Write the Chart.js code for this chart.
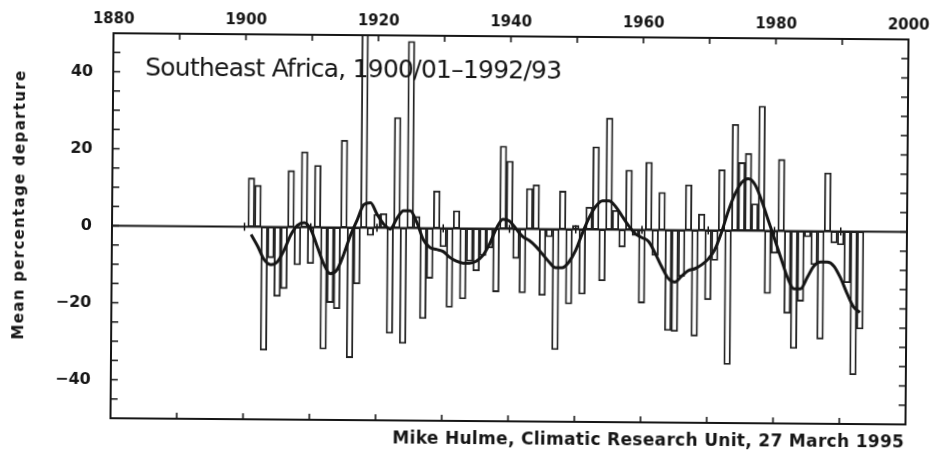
<!DOCTYPE html>
<html>
<head>
<meta charset="utf-8">
<script src="https://cdn.jsdelivr.net/npm/chart.js@4.4.0/dist/chart.umd.min.js"></script>
<style>
  html, body { margin: 0; background: #fff; }
  #wrap { width: 934px; height: 455px; transform: rotate(0.45deg); }
  canvas { display: block; }
</style>
</head>
<body>
<div id="wrap"><canvas id="rainChart" width="934" height="455"></canvas></div>
<script>
const chartTitle = "Southeast Africa, 1900/01\u20131992/93";
const creditLine = "Mike Hulme, Climatic Research Unit, 27 March 1995";
const yAxisTitle = "Mean percentage departure";

// season 1900/01 is plotted at 1901, then one bar per season
const firstSeasonEnd = 1901;

// rainfall departures (%), seasons 1900/01 .. 1992/93
const departures = [
  12.7, 10.8, -32, -8, -18, -16, 14.7, -9.8, 19.6, -9.4,
  16.1, -31.6, -19.5, -21.1, 22.7, -33.8, -14.6, 55, -2, 3.5,
  3.7, -27.4, 28.7, -30, 48.5, 3, -23.5, -13, 9.7, -4.8,
  -20.5, 4.6, -18.3, -8.5, -11, -7, -5, -16.4, 21.5, 17.6,
  -7.7, -16.6, 10.5, 11.5, -17.2, -2, -31.3, 9.9, -19.4, 1,
  -16.8, 5.8, 21.5, -13.3, 29, 5, -4.5, 15.5, -1.5, -19,
  17.6, -6.6, 9.8, -26.1, -26.3, -12, 11.8, -27.5, 4.2, -18,
  -7.8, 15.8, -34.8, 27.6, 17.7, 20.1, 7, 32.4, -16.3, -5.8,
  18.6, -21.4, -30.5, -18.2, -1.5, -8.7, -28, 15.2, -3, -3.5,
  -13.3, -37.2, -25.3
];

// smoothed curve at each season
const smoothed = [
  -2, -5, -8.5, -9.8, -9, -6, -2, 0.5, 1.2, -0.5,
  -5, -9.5, -12, -11, -7, -2, 2, 6, 6.5, 3.5,
  1, -0.3, 2.5, 4.5, 4.5, 1.5, -3, -5, -5.5, -6,
  -7.5, -8.5, -9, -9, -8.5, -7, -4, 0, 2.5, 2,
  0, -2, -3, -4.5, -6.5, -8.5, -10, -10, -8.5, -5.5,
  -1, 3, 6, 7.5, 7.5, 6, 3.5, 1, -1, -2,
  -3, -6, -9.5, -12.5, -13.5, -12, -10.5, -10, -9, -7.5,
  -5, -0.5, 5, 9.5, 12.5, 13.5, 12, 8, 3, -2,
  -7, -12, -15, -15, -12, -9, -8, -8, -9, -12,
  -16, -19.5, -21
];

const xTickValues = [1880, 1900, 1920, 1940, 1960, 1980, 2000];
const xTickLabels = ["1880", "1900", "1920", "1940", "1960", "1980", "2000"];
const yTickValues = [-40, -20, 0, 20, 40];
const yTickLabels = ["\u221240", "\u221220", "0", "20", "40"];

const ink = "#161616";

// fit text to a width by spreading the letters
const spreadText = (ctx, text, x, y, width) => {
  ctx.letterSpacing = "0px";
  const w = ctx.measureText(text).width;
  const gap = (width - w) / text.length;
  ctx.letterSpacing = gap.toFixed(2) + "px";
  ctx.fillText(text, x, y);
  ctx.letterSpacing = "0px";
};

const framePlugin = {
  id: "frame",
  beforeDatasetsDraw(chart) {
    const { ctx, chartArea: a, scales } = chart;
    const y0 = scales.y.getPixelForValue(0);
    ctx.save();
    ctx.strokeStyle = ink;
    ctx.lineWidth = 2;
    ctx.beginPath();
    ctx.moveTo(a.left, y0);
    ctx.lineTo(a.right, y0);
    ctx.stroke();
    ctx.lineWidth = 1.5;
    ctx.beginPath();
    for (let yr = 1900; yr <= 1990; yr += 10) {
      const px = scales.x.getPixelForValue(yr);
      ctx.moveTo(px, y0 - 4);
      ctx.lineTo(px, y0 + 4);
    }
    ctx.stroke();
    ctx.restore();
  },
  afterDatasetsDraw(chart) {
    const { ctx, chartArea: a, scales } = chart;
    ctx.save();
    ctx.strokeStyle = ink;
    ctx.fillStyle = ink;
    ctx.lineWidth = 2;
    ctx.strokeRect(a.left, a.top, a.right - a.left, a.bottom - a.top);

    ctx.lineWidth = 1.6;
    ctx.beginPath();
    for (let v = -45; v <= 45; v += 5) {
      const py = scales.y.getPixelForValue(v);
      ctx.moveTo(a.left, py);
      ctx.lineTo(a.left + 7, py);
      ctx.moveTo(a.right, py);
      ctx.lineTo(a.right - 7, py);
    }
    for (let yr = 1890; yr <= 1990; yr += 10) {
      const px = scales.x.getPixelForValue(yr);
      ctx.moveTo(px, a.top);
      ctx.lineTo(px, a.top + 6);
      ctx.moveTo(px, a.bottom);
      ctx.lineTo(px, a.bottom - 6);
    }
    ctx.stroke();

    ctx.textBaseline = "middle";
    ctx.textAlign = "left";
    ctx.font = "25px 'DejaVu Sans'";
    spreadText(ctx, chartTitle, 144, 71, 416);

    ctx.font = "bold 17px 'DejaVu Sans'";
    spreadText(ctx, creditLine, 394, 440, 512);

    ctx.translate(20, 208);
    ctx.rotate(-Math.PI / 2);
    ctx.font = "bold 15px 'DejaVu Sans'";
    spreadText(ctx, yAxisTitle, -135, 0, 270);
    ctx.restore();
  },
};

const ctx = document.getElementById("rainChart").getContext("2d");

new Chart(ctx, {
  type: "bar",
  data: {
    datasets: [
      {
        type: "line",
        order: 0,
        data: smoothed.map((v, i) => ({ x: firstSeasonEnd + i, y: v })),
        borderColor: ink,
        borderWidth: 3,
        pointRadius: 0,
        cubicInterpolationMode: "monotone",
        fill: false,
      },
      {
        type: "bar",
        order: 1,
        data: departures.map((v, i) => ({ x: firstSeasonEnd + i, y: v })),
        backgroundColor: "rgba(255, 255, 255, 0)",
        borderColor: "#222",
        borderWidth: 1.2,
        borderSkipped: false,
        barPercentage: 1,
        categoryPercentage: 1,
      },
    ],
  },
  options: {
    responsive: false,
    animation: false,
    layout: {
      padding: { left: 0, right: 27, top: 0, bottom: 34 },
    },
    plugins: {
      legend: { display: false },
      tooltip: { enabled: false },
    },
    scales: {
      x: {
        type: "linear",
        position: "top",
        min: 1880,
        max: 2000,
        offset: false,
        grid: { display: false, offset: false },
        border: { display: false },
        afterFit: (scale) => {
          scale.height = 36;
        },
        afterBuildTicks: (scale) => {
          scale.ticks = xTickValues.map((v) => ({ value: v }));
        },
        ticks: {
          autoSkip: false,
          maxRotation: 0,
          padding: -2,
          color: ink,
          font: { family: "DejaVu Sans", size: 15, weight: "bold", lineHeight: 1 },
          callback: (value) => xTickLabels[xTickValues.indexOf(value)],
        },
      },
      y: {
        min: -50,
        max: 50,
        grid: { display: false },
        border: { display: false },
        afterFit: (scale) => {
          scale.width = 112;
        },
        afterBuildTicks: (scale) => {
          scale.ticks = yTickValues.map((v) => ({ value: v }));
        },
        ticks: {
          padding: 12,
          color: ink,
          font: { family: "DejaVu Sans", size: 16, weight: "bold" },
          callback: (value) => yTickLabels[yTickValues.indexOf(value)],
        },
      },
    },
  },
  plugins: [framePlugin],
});
</script>
</body>
</html>
